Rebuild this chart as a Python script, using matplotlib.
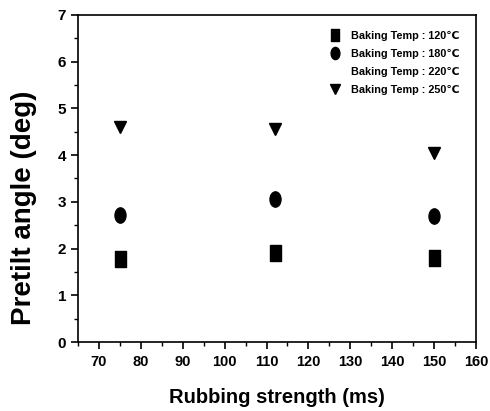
import matplotlib
matplotlib.use("Agg")
import matplotlib.pyplot as plt
from matplotlib.ticker import MultipleLocator
from matplotlib.path import Path
from matplotlib.transforms import Affine2D

x = [75, 112, 150]
temp_labels = ["Baking Temp : 120\u2103", "Baking Temp : 180\u2103",
               "Baking Temp : 220\u2103", "Baking Temp : 250\u2103"]
y120 = [1.78, 1.90, 1.80]
y180 = [2.72, 3.06, 2.70]
y220 = []
y250 = [4.60, 4.57, 4.05]

rect_marker = Path([(-0.36, -0.5), (0.36, -0.5), (0.36, 0.5), (-0.36, 0.5), (-0.36, -0.5)],
                   [Path.MOVETO, Path.LINETO, Path.LINETO, Path.LINETO, Path.CLOSEPOLY])
ell_marker = Path.unit_circle().transformed(Affine2D().scale(0.36, 0.5))

fig = plt.figure(figsize=(4.9, 4.11), dpi=100)
ax = fig.add_axes([78/490, 1-342/411, (476-78)/490, (342-15)/411])

ax.plot(x, y120, ls="none", marker=rect_marker, ms=11, color="black", label=temp_labels[0])
ax.plot(x, y180, ls="none", marker=ell_marker, ms=11, color="black", label=temp_labels[1])
ax.plot([], [], ls="none", marker="none", color="black", label=temp_labels[2])
ax.plot(x, y250, ls="none", marker="v", ms=9, color="black", label=temp_labels[3])

ax.set_xlim(65, 160)
ax.set_ylim(0, 7)
ax.xaxis.set_minor_locator(MultipleLocator(5))
ax.yaxis.set_major_locator(MultipleLocator(1))
ax.yaxis.set_minor_locator(MultipleLocator(0.5))
ax.set_xticks(range(70, 161, 10))
ax.tick_params(which="major", direction="out", length=5, width=1.2)
ax.tick_params(which="minor", direction="out", length=3, width=1)
ax.tick_params(axis="x", pad=4)
for lab in ax.get_xticklabels():
    lab.set_fontfamily("Liberation Sans")
    lab.set_fontweight("bold")
    lab.set_fontsize(10.5)
for lab in ax.get_yticklabels():
    lab.set_fontfamily("Liberation Sans")
    lab.set_fontweight("bold")
    lab.set_fontsize(11)
for s in ax.spines.values():
    s.set_linewidth(1.2)

ax.set_xlabel("Rubbing strength (ms)", fontsize=14.5, fontweight="bold",
              family="Liberation Sans", labelpad=14)
ax.set_ylabel("Pretilt angle (deg)", fontsize=20, fontweight="bold",
              family="Liberation Sans")
ax.yaxis.set_label_coords(-0.103, 0.41)

leg = ax.legend(loc="upper right", frameon=False, handletextpad=0.5,
                labelspacing=0.72, borderaxespad=1.1, markerscale=0.8,
                prop={"family": ["Liberation Sans", "DejaVu Sans"], "weight": "bold", "size": 7.8})

fig.savefig("out.png", dpi=100)
